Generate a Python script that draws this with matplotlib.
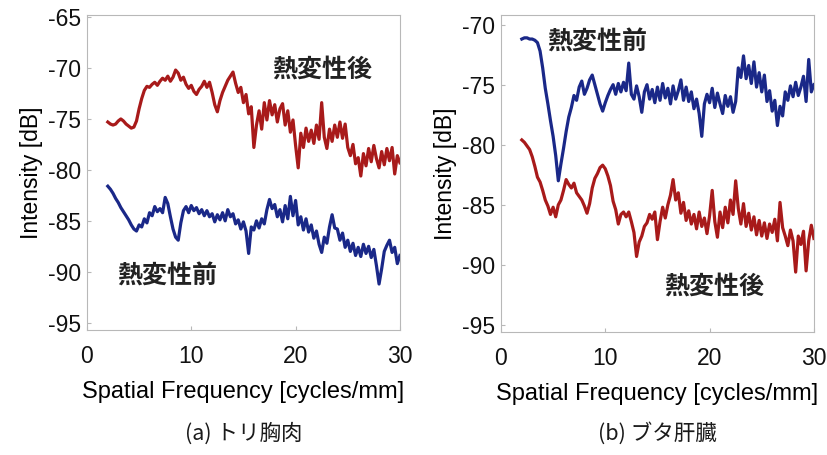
import numpy as np
import matplotlib
matplotlib.use("Agg")
import matplotlib.pyplot as plt

plt.rcParams['font.family'] = ['Liberation Sans', 'Noto Sans CJK JP', 'DejaVu Sans']
plt.rcParams['axes.unicode_minus'] = False

# spatial frequency grid (cycles/mm), 0.25 step from 2 to 30
freq = np.linspace(2.0, 30.0, 113)

# (a) chicken breast, after heating (red)
a_after = [
    -75.3, -75.5, -75.6, -75.5, -75.2, -75.0, -75.2, -75.5,
    -75.7, -75.9, -75.8, -75.2, -74.0, -73.0, -72.2, -71.8,
    -71.9, -71.6, -71.4, -71.7, -71.3, -71.0, -71.2, -70.8,
    -71.3, -70.9, -70.2, -70.5, -71.2, -70.9, -71.6, -72.0,
    -71.7, -72.3, -72.6, -72.1, -71.8, -71.3, -71.9, -71.4,
    -72.4, -73.6, -74.3, -73.2, -72.4, -71.8, -71.2, -70.8,
    -70.4, -71.5, -72.4, -71.9, -73.4, -72.6, -74.5, -73.8,
    -77.8, -75.6, -74.2, -76.0, -73.4, -75.1, -73.2, -74.6,
    -73.6, -75.3, -74.0, -73.5, -75.6, -74.2, -76.3, -75.1,
    -77.6, -79.8, -76.4, -77.8, -75.9, -77.2, -76.1, -77.4,
    -75.6, -77.0, -73.4, -76.8, -77.9, -76.0, -77.2, -75.6,
    -76.8, -75.3, -76.9, -75.5, -77.8, -78.6, -77.5, -79.4,
    -78.8, -80.6, -78.4, -79.6, -77.9, -79.2, -77.6, -78.9,
    -79.8, -78.2, -79.5, -77.9, -79.1, -77.8, -80.4, -78.6,
    -79.3,
]

# (a) chicken breast, before heating (blue)
a_before = [
    -81.6, -81.9, -82.3, -82.8, -83.2, -83.7, -84.1, -84.5,
    -84.9, -85.4, -85.8, -86.0, -85.4, -85.6, -84.8, -85.2,
    -84.2, -84.5, -83.6, -84.1, -83.8, -84.2, -82.7, -83.3,
    -84.6, -85.8, -86.6, -86.9, -85.2, -84.0, -83.6, -84.2,
    -83.5, -84.0, -83.7, -84.3, -83.9, -84.5, -84.0, -84.6,
    -84.3, -85.1, -84.4, -84.9, -84.2, -85.0, -83.9, -84.6,
    -84.3, -85.3, -84.9, -85.8, -85.1, -86.0, -88.2, -85.6,
    -85.9, -85.0, -85.7, -84.8, -85.3, -83.9, -82.9, -83.8,
    -83.4, -84.6, -83.9, -85.1, -83.5, -84.8, -82.6, -84.5,
    -83.0, -85.4, -84.6, -85.9, -84.8, -86.1, -85.4, -86.7,
    -86.0, -87.3, -88.1, -86.6, -87.2, -85.6, -84.4, -85.7,
    -85.8, -86.9, -86.2, -87.6, -86.9, -88.0, -87.2, -88.4,
    -87.6, -88.5, -87.3, -88.2, -87.5, -88.6, -87.8, -89.4,
    -91.2, -89.7, -88.0, -87.4, -86.9, -88.1, -87.6, -89.2,
    -88.4,
]

# (b) pig liver, before heating (blue)
b_before = [
    -71.2, -71.1, -71.1, -71.2, -71.2, -71.3, -71.5, -72.2,
    -73.6, -75.3, -76.6, -78.0, -79.3, -80.9, -83.0, -81.6,
    -80.3, -78.9, -77.7, -76.9, -75.9, -76.3, -75.2, -74.7,
    -75.8, -75.3, -74.6, -74.2, -75.0, -75.8, -76.6, -77.2,
    -76.5, -75.9, -75.4, -75.0, -75.8, -74.9, -75.6, -74.8,
    -75.5, -73.2, -75.8, -76.2, -75.1, -76.0, -77.3, -75.6,
    -75.0, -76.2, -75.4, -76.5, -75.2, -76.3, -74.9, -76.1,
    -75.3, -76.6, -75.1, -76.2, -75.5, -74.6, -76.3, -75.2,
    -76.4, -75.6, -77.0, -76.2, -77.4, -79.3, -76.6, -75.8,
    -76.5, -75.3, -76.9, -75.7, -76.6, -77.4, -75.9, -76.8,
    -76.0, -77.3, -76.4, -73.6, -74.4, -72.6, -74.5, -73.4,
    -74.9, -73.1, -75.2, -74.0, -75.6, -74.2, -76.4, -75.5,
    -77.2, -76.3, -78.4, -76.8, -77.6, -75.6, -76.3, -75.1,
    -76.0, -74.8, -75.9, -75.2, -74.3, -76.4, -72.9, -75.6,
    -75.0,
]

# (b) pig liver, after heating (red)
b_after = [
    -79.6, -79.8, -80.1, -80.4, -81.0, -81.8, -82.7, -83.1,
    -83.8, -84.6, -85.1, -85.8, -85.2, -86.0, -85.0, -84.6,
    -83.8, -82.9, -83.3, -83.6, -83.2, -84.0, -84.3, -84.6,
    -85.1, -85.7, -84.9, -83.6, -82.8, -82.4, -81.9, -81.7,
    -82.0, -82.6, -83.4, -84.7, -85.4, -86.6, -85.8, -85.6,
    -86.0, -85.6, -86.4, -87.3, -89.3, -88.1, -87.6, -86.8,
    -86.5, -85.8, -86.2, -85.6, -87.9, -86.4, -85.2, -86.1,
    -85.0, -84.2, -82.9, -84.6, -84.0, -85.7, -84.8, -86.3,
    -85.5, -86.6, -85.8, -87.0, -85.6, -86.8, -86.1, -87.4,
    -85.9, -83.8, -86.4, -87.7, -85.6, -86.9, -85.2, -86.5,
    -84.6, -85.8, -83.0, -85.3, -86.6, -84.9, -86.8, -85.7,
    -87.1, -86.0, -87.5, -86.3, -87.6, -86.5, -87.8, -86.6,
    -87.3, -86.2, -88.0, -84.8, -86.9, -87.6, -88.4, -87.1,
    -88.0, -90.6, -87.6, -88.3, -87.2, -90.5, -88.0, -86.7,
    -87.8,
]

x_ticks = [0, 10, 20, 30]
a_yticks = [-65, -70, -75, -80, -85, -90, -95]
b_yticks = [-70, -75, -80, -85, -90, -95]
label_after = "熱変性後"
label_before = "熱変性前"
captions = ["(a) トリ胸肉", "(b) ブタ肝臓"]

RED = "#a81a1a"
BLUE = "#1a2888"
CJK = ['Noto Sans CJK JP', 'DejaVu Sans']

fig = plt.figure(figsize=(8.28, 4.55), dpi=100)
axA = fig.add_axes([0.105, 0.275, 0.378, 0.692])
axB = fig.add_axes([0.605, 0.270, 0.378, 0.697])

def style(ax, yticks, ylim, caption):
    ax.set_xlim(0, 30)
    ax.set_ylim(*ylim)
    ax.set_xticks(x_ticks)
    ax.set_yticks(yticks)
    for s in ax.spines.values():
        s.set_color("#b8b8b8")
        s.set_linewidth(0.8)
    ax.tick_params(direction="in", length=3, color="#b8b8b8", labelsize=16.5,
                   labelcolor="#111111")
    ax.tick_params(axis="x", pad=11)
    ax.tick_params(axis="y", pad=4)
    ax.set_xlabel("Spatial Frequency [cycles/mm]", fontsize=17, labelpad=9)
    ax.set_ylabel("Intensity [dB]", fontsize=16.5, labelpad=4)
    pos = ax.get_position()
    fig.text((pos.x0 + pos.x1) / 2, 0.048, caption, ha="center", va="center",
             fontsize=15.5, family=CJK, color="#1a1a1a")

axA.plot(freq, a_after, color=RED, lw=2.3)
axA.plot(freq, a_before, color=BLUE, lw=2.3)
style(axA, a_yticks, (-95.7, -64.8), captions[0])
axA.text(17.8, -70.2, label_after, ha="left", va="center", fontsize=18,
         fontweight="bold", family=CJK, color="#222222")
axA.text(2.9, -90.5, label_before, ha="left", va="center", fontsize=18,
         fontweight="bold", family=CJK, color="#222222")

axB.plot(freq, b_before, color=BLUE, lw=2.3)
axB.plot(freq, b_after, color=RED, lw=2.3)
style(axB, b_yticks, (-95.6, -69.2), captions[1])
axB.text(4.4, -71.5, label_before, ha="left", va="center", fontsize=18,
         fontweight="bold", family=CJK, color="#222222")
axB.text(15.6, -91.8, label_after, ha="left", va="center", fontsize=18,
         fontweight="bold", family=CJK, color="#222222")

fig.savefig("out.png", dpi=100)
